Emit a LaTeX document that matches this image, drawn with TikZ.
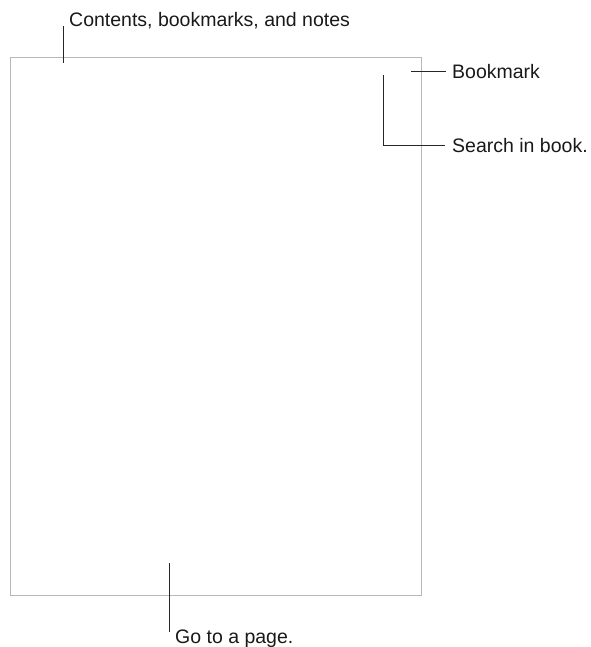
\documentclass[tikz,border=0pt]{standalone}
\usepackage{fontspec}
\setmainfont{Liberation Sans}
\begin{document}
\begin{tikzpicture}[x=1pt,y=-1pt,
  lbl/.style={font=\fontsize{19.5}{23}\selectfont, text=black!90, inner sep=0pt, anchor=base west},
  callout/.style={draw=black!85, line width=1pt},
  pageframe/.style={draw=black!28, line width=1pt}]
\useasboundingbox (0,0) rectangle (590,647);
% page
\coordinate (pg-nw) at (10,58);
\coordinate (pg-se) at (421,595);
\draw[pageframe] (pg-nw) rectangle (pg-se);
% labels
\node[lbl] (contents) at (69,27) {Contents, bookmarks, and notes};
\node[lbl] (bookmark) at (452,79) {Bookmark};
\node[lbl] (search) at (452,153) {Search in book.};
\node[lbl] (goto) at (175,643) {Go to a page.};
% connectors
\coordinate (c-top) at (63,26);
\coordinate (c-bot) at (63,63);
\draw[callout] (c-bot) -- (c-top);
\coordinate (b-start) at (411,72);
\coordinate (b-end) at (446,72);
\draw[callout] (b-start) -- (b-end);
\coordinate (s-start) at (383,75);
\coordinate (s-corner) at (383,146);
\coordinate (s-end) at (445,146);
\draw[callout] (s-start) -- (s-corner) -- (s-end);
\coordinate (g-top) at (169,563);
\coordinate (g-bot) at (169,632);
\draw[callout] (g-top) -- (g-bot);
\end{tikzpicture}
\end{document}
